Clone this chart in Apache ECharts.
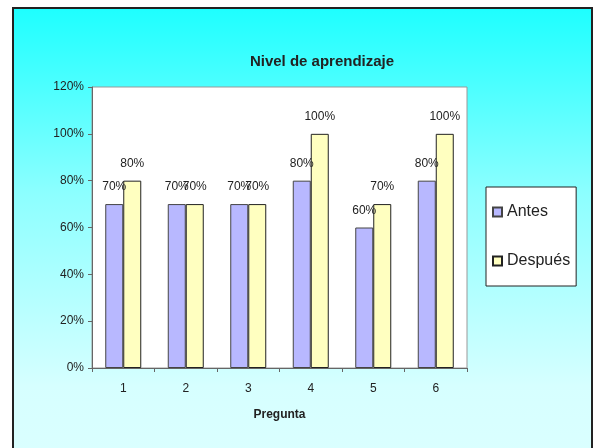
<!DOCTYPE html>
<html>
<head>
<meta charset="utf-8">
<script src="https://cdn.jsdelivr.net/npm/echarts@6/dist/echarts.min.js"></script>
<style>
  html, body { margin: 0; padding: 0; background: #fff; }
  #wrap { position: relative; width: 600px; height: 448px; overflow: hidden; }
  #frame {
    position: absolute; left: 12px; top: 7px; width: 577px; height: 460px;
    border: 2px solid #222;
    background: linear-gradient(to bottom, #1effff 0%, #8cffff 40%, #d6ffff 82%, #dbffff 100%);
  }
  #chart { position: absolute; left: 0; top: 0; width: 600px; height: 448px; }
</style>
</head>
<body>
<div id="wrap">
  <div id="frame"></div>
  <div id="chart"></div>
</div>
<script>
// Learning level per question, before and after
const categories = ['1', '2', '3', '4', '5', '6'];
const antes = [0.7, 0.7, 0.7, 0.8, 0.6, 0.8];
const despues = [0.8, 0.7, 0.7, 1.0, 0.7, 1.0];
const seriesNames = ['Antes', 'Después'];

const FONT = 'Liberation Sans, Arial, sans-serif';
const pct = v => Math.round(v * 100) + '%';

const labelStyle = {
  show: true,
  position: 'top',
  distance: 11,
  color: '#222',
  fontFamily: FONT,
  fontSize: 12,
  formatter: p => pct(p.value)
};

const chart = echarts.init(document.getElementById('chart'), null, { renderer: 'canvas' });
chart.setOption({
  backgroundColor: 'transparent',
  animation: false,
  textStyle: { fontFamily: FONT },
  title: {
    text: 'Nivel de aprendizaje',
    left: 317,
    textAlign: 'center',
    top: 49,
    textStyle: { fontFamily: FONT, fontSize: 15, fontWeight: 'bold', color: '#222' }
  },
  grid: {
    left: 92, right: 133, top: 87, bottom: 80,
    show: true, backgroundColor: '#fff', borderColor: '#999', borderWidth: 1
  },
  legend: {
    orient: 'vertical',
    left: 486, top: 187,
    padding: [17, 6, 17, 6],
    itemGap: 33,
    itemWidth: 9, itemHeight: 9,
    icon: 'rect',
    backgroundColor: '#fff',
    borderColor: '#222',
    borderWidth: 1,
    textStyle: { fontFamily: FONT, fontSize: 16, color: '#222' },
    data: seriesNames
  },
  xAxis: {
    type: 'category',
    data: categories,
    name: 'Pregunta',
    nameLocation: 'middle',
    nameGap: 41,
    nameTextStyle: { fontFamily: FONT, fontSize: 12, fontWeight: 'bold', color: '#222' },
    axisLine: { lineStyle: { color: '#666', width: 1 } },
    axisTick: { show: true, alignWithLabel: false, length: 4, lineStyle: { color: '#666' } },
    axisLabel: { color: '#222', fontSize: 12, fontFamily: FONT, margin: 15 },
    splitLine: { show: false }
  },
  yAxis: {
    type: 'value',
    min: 0, max: 1.2, interval: 0.2,
    axisLine: { show: true, lineStyle: { color: '#666', width: 1 } },
    axisTick: { show: true, length: 4, lineStyle: { color: '#666' } },
    axisLabel: { color: '#222', fontSize: 12, fontFamily: FONT, margin: 8, formatter: v => pct(v) },
    splitLine: { show: false }
  },
  series: [
    {
      name: seriesNames[0],
      type: 'bar',
      data: antes,
      barWidth: 18,
      barGap: '0%',
      itemStyle: { color: '#b8b8ff', borderColor: '#444', borderWidth: 1 },
      label: labelStyle
    },
    {
      name: seriesNames[1],
      type: 'bar',
      data: despues,
      barWidth: 18,
      barGap: '0%',
      itemStyle: { color: '#ffffc0', borderColor: '#222', borderWidth: 1 },
      label: labelStyle
    }
  ]
});
</script>
</body>
</html>
